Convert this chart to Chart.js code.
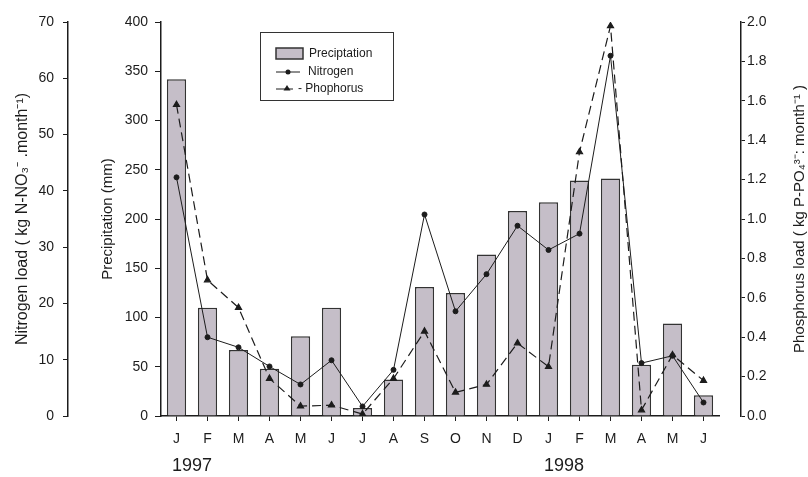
<!DOCTYPE html>
<html>
<head>
<meta charset="utf-8">
<script src="https://cdn.jsdelivr.net/npm/chart.js@4.4.0/dist/chart.umd.min.js"></script>
<style>
  body { margin: 0; background: #fff; }
</style>
</head>
<body>
<canvas id="myChart" width="808" height="477"></canvas>
<script>
'use strict';

// chart data
const months = ['J', 'F', 'M', 'A', 'M', 'J', 'J', 'A', 'S', 'O', 'N', 'D', 'J', 'F', 'M', 'A', 'M', 'J'];
const yearLabels = ['1997', '1998'];
const yearStartIndex = [0, 12];
const precipitation = [342, 110, 67, 48, 81, 110, 8, 37, 131, 125, 164, 208, 217, 239, 241, 52, 94, 21];
const nitrogen = [42.4, 14.0, 12.2, 8.8, 5.6, 9.9, 1.7, 8.2, 35.8, 18.6, 25.2, 33.8, 29.5, 32.4, 64.0, 9.4, 10.7, 2.4];
const phosphorus = [1.58, 0.69, 0.55, 0.19, 0.05, 0.055, 0.01, 0.19, 0.43, 0.12, 0.16, 0.37, 0.25, 1.34, 1.98, 0.03, 0.31, 0.18];
const legendLabels = ['Preciptation', 'Nitrogen', '- Phophorus'];

const nitrogenTitle = 'Nitrogen load ( kg N-NO\u2083\u207B .month\u207B\u00B9)';
const phosphorusTitle = 'Phosphorus load ( kg P-PO\u2084\u00B3\u207B: month\u207B\u00B9 )';

const ink = '#1c1c1c';
const fontFamily = '"Liberation Sans", Arial, sans-serif';

// force axis box sizes so the plot lands where the original one is
function fixWidth(w) {
  return function (scale) { scale.width = w; };
}
function fixHeight(h) {
  return function (scale) { scale.height = h; };
}

// boxed legend in the upper middle of the plot
const legendBox = {
  id: 'legendBox',
  afterDatasetsDraw(chart) {
    const ctx = chart.ctx;
    const ds = chart.data.datasets;
    ctx.save();
    ctx.fillStyle = '#fff';
    ctx.fillRect(260.5, 32.5, 133, 68);
    ctx.strokeStyle = '#333';
    ctx.lineWidth = 1;
    ctx.strokeRect(260.5, 32.5, 133, 68);

    ctx.font = '12px ' + fontFamily;
    ctx.textBaseline = 'middle';

    // precipitation swatch
    ctx.fillStyle = ds[0].backgroundColor;
    ctx.fillRect(276, 48, 27, 11);
    ctx.strokeStyle = ds[0].borderColor;
    ctx.lineWidth = 1.5;
    ctx.strokeRect(276, 48, 27, 11);
    ctx.fillStyle = ink;
    ctx.fillText(legendLabels[0], 309, 54);

    // nitrogen: solid line with dot
    ctx.strokeStyle = ds[1].borderColor;
    ctx.lineWidth = 1;
    ctx.beginPath();
    ctx.moveTo(276, 72);
    ctx.lineTo(300, 72);
    ctx.stroke();
    ctx.beginPath();
    ctx.arc(288, 72, 2.5, 0, Math.PI * 2);
    ctx.fill();
    ctx.fillText(legendLabels[1], 308, 72);

    // phosphorus: line with triangle
    ctx.beginPath();
    ctx.moveTo(276, 89);
    ctx.lineTo(293, 89);
    ctx.stroke();
    ctx.beginPath();
    ctx.moveTo(287, 85);
    ctx.lineTo(290.5, 90.5);
    ctx.lineTo(283.5, 90.5);
    ctx.closePath();
    ctx.fill();
    ctx.fillText(legendLabels[2], 298, 89);
    ctx.restore();
  }
};

// right axis title reads bottom-to-top in the original
const rightTitle = {
  id: 'rightTitle',
  afterDraw(chart) {
    const s = chart.scales.yP;
    const ctx = chart.ctx;
    ctx.save();
    ctx.translate(s.right - 8, (s.top + s.bottom) / 2);
    ctx.rotate(-Math.PI / 2);
    ctx.font = '15px ' + fontFamily;
    ctx.fillStyle = ink;
    ctx.textAlign = 'center';
    ctx.textBaseline = 'middle';
    ctx.fillText(phosphorusTitle, 0, 0);
    ctx.restore();
  }
};

const data = {
  labels: months,
  datasets: [{
    type: 'bar',
    label: legendLabels[0],
    data: precipitation,
    yAxisID: 'y',
    backgroundColor: '#c5bec8',
    borderColor: '#333',
    borderWidth: 1.5,
    barPercentage: 0.62,
    categoryPercentage: 1.0,
    order: 3
  },
  {
    type: 'line',
    label: legendLabels[1],
    data: nitrogen,
    yAxisID: 'yN',
    borderColor: ink,
    borderWidth: 1,
    tension: 0,
    pointStyle: 'circle',
    pointRadius: 2.5,
    pointBackgroundColor: ink,
    pointBorderColor: ink,
    order: 1
  },
  {
    type: 'line',
    label: legendLabels[2],
    data: phosphorus,
    yAxisID: 'yP',
    borderColor: ink,
    borderWidth: 1.2,
    borderDash: [9, 5],
    tension: 0,
    pointStyle: 'triangle',
    pointRadius: 3.5,
    pointBackgroundColor: ink,
    pointBorderColor: ink,
    order: 2
  }]
};

const tickFont = { size: 14, family: fontFamily };

const config = {
  data: data,
  options: {
    responsive: false,
    animation: false,
    layout: { padding: { top: 22, left: 0, right: 0, bottom: 0 } },
    plugins: {
      legend: { display: false },
      tooltip: { enabled: false }
    },
    scales: {
      x: {
        type: 'category',
        position: 'bottom',
        weight: 0,
        offset: true,
        grid: { display: true, drawOnChartArea: false, offset: false, tickLength: 5, tickColor: ink, color: ink },
        border: { display: true, color: ink, width: 1.5 },
        ticks: { color: ink, font: tickFont, padding: 10, maxRotation: 0, autoSkip: false },
        afterFit: fixHeight(32)
      },
      year: {
        type: 'linear',
        position: 'bottom',
        weight: 1,
        min: -0.5,
        max: months.length - 0.5,
        grid: { display: false, drawTicks: false },
        border: { display: false },
        afterBuildTicks(scale) {
          scale.ticks = yearStartIndex.map(i => ({ value: i + 0.5 }));
        },
        ticks: {
          color: ink,
          font: { size: 18, family: fontFamily },
          padding: 7,
          autoSkip: false,
          maxRotation: 0,
          callback: (value, index) => yearLabels[index]
        },
        afterFit: fixHeight(29)
      },
      yN: {
        type: 'linear',
        position: 'left',
        weight: 1,
        min: 0,
        max: 70,
        ticks: { stepSize: 10, color: ink, font: tickFont, padding: 9 },
        grid: { drawOnChartArea: false, tickLength: 5, tickColor: ink },
        border: { color: ink, width: 1.5 },
        title: { display: true, text: nitrogenTitle, color: ink, font: { size: 16, family: fontFamily }, padding: { top: 13, bottom: 0 } },
        afterFit: fixWidth(68)
      },
      y: {
        type: 'linear',
        position: 'left',
        weight: 0,
        min: 0,
        max: 400,
        ticks: { stepSize: 50, color: ink, font: tickFont, padding: 7 },
        grid: { drawOnChartArea: false, tickLength: 6, tickColor: ink },
        border: { color: ink, width: 1.5 },
        title: { display: true, text: 'Precipitation (mm)', color: ink, font: { size: 15, family: fontFamily }, padding: { top: 31, bottom: 0 } },
        afterFit: fixWidth(93)
      },
      gap: {
        type: 'linear',
        position: 'right',
        weight: 0,
        grid: { display: false, drawTicks: false },
        border: { display: false },
        ticks: { display: false },
        afterFit: fixWidth(22)
      },
      yP: {
        type: 'linear',
        position: 'right',
        weight: 1,
        min: 0,
        max: 2,
        ticks: { stepSize: 0.2, color: ink, font: tickFont, padding: 2, callback: v => v.toFixed(1) },
        grid: { drawOnChartArea: false, tickLength: 4, tickColor: ink },
        border: { color: ink, width: 1.5 },
        afterFit: fixWidth(67)
      }
    }
  },
  plugins: [legendBox, rightTitle]
};

const myChart = new Chart(document.getElementById('myChart'), config);
</script>
</body>
</html>
